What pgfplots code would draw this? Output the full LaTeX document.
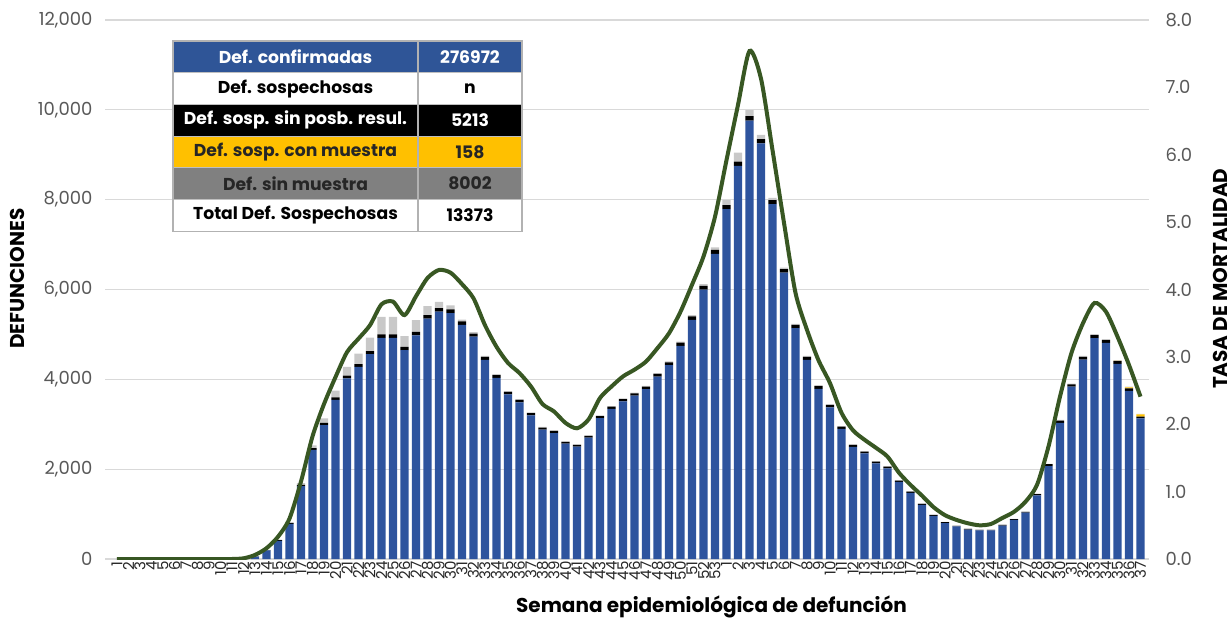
\documentclass[border=0pt]{standalone}
\usepackage{fontspec}
\setmainfont{Poppins}
\usepackage{pgfplots}
\usepackage{pgfplotstable}
\pgfplotsset{compat=1.18}

\definecolor{confblue}{RGB}{46,84,158}
\definecolor{hdrblue}{RGB}{47,85,151}
\definecolor{susyel}{RGB}{255,192,0}
\definecolor{susgray}{RGB}{128,128,128}
\definecolor{barlgray}{RGB}{200,200,200}
\definecolor{rategreen}{HTML}{385723}
\definecolor{ticktxt}{RGB}{89,89,89}
\definecolor{gridc}{RGB}{217,217,217}

% i = bar index (weeks 1-53 of 2020, then 1-37 of 2021)
\pgfplotstableread{
i  blue black yel gray rate
0  0    0   0  0   0
1  0    0   0  0   0
2  0    0   0  0   0
3  0    0   0  0   0
4  0    0   0  0   0
5  0    0   0  0   0
6  0    0   0  0   0
7  0    0   0  0   0
8  0    0   0  0   0
9  0    0   0  0   0
10 0    0   0  0   0
11 10   0   0  0   0.01
12 55   5   0  0   0.06
13 190  10  0  5   0.16
14 405  15  0  10  0.33
15 780  20  0  20  0.60
16 1620 30  0  40  1.15
17 2430 40  0  60  1.82
18 2980 50  0  100 2.30
19 3545 55  0  150 2.70
20 4020 60  0  200 3.07
21 4275 65  0  230 3.27
22 4560 70  0  300 3.47
23 4925 75  0  390 3.78
24 4925 75  0  390 3.82
25 4650 70  0  240 3.62
26 4980 75  0  265 3.90
27 5350 80  0  200 4.17
28 5505 80  0  140 4.29
29 5475 80  0  90  4.25
30 5215 75  0  40  4.08
31 4950 70  0  30  3.87
32 4435 65  0  25  3.47
33 4035 60  0  20  3.15
34 3665 55  0  20  2.91
35 3485 55  0  20  2.76
36 3200 50  0  15  2.56
37 2880 45  0  15  2.30
38 2805 45  0  15  2.19
39 2570 40  0  10  2.02
40 2500 40  0  10  1.94
41 2700 40  0  10  2.07
42 3135 45  0  15  2.39
43 3340 50  0  15  2.56
44 3510 50  0  15  2.71
45 3635 55  0  15  2.81
46 3780 55  0  20  2.93
47 4060 60  0  20  3.13
48 4315 65  0  20  3.35
49 4745 70  0  25  3.67
50 5325 75  0  30  4.07
51 6000 80  0  40  4.49
52 6795 85  0  60  5.08
53 7790 90  0  110 5.92
54 8750 95  0  200 6.74
55 9760 100 0  135 7.54
56 9255 95  0  90  7.13
57 7900 90  0  50  6.07
58 6375 80  0  30  4.99
59 5140 70  0  25  3.95
60 4435 65  0  20  3.40
61 3790 60  0  20  2.95
62 3375 55  0  15  2.61
63 2895 50  0  15  2.17
64 2495 45  0  10  1.91
65 2350 40  0  10  1.77
66 2130 40  0  10  1.65
67 2020 35  0  10  1.52
68 1715 30  0  10  1.28
69 1470 30  0  10  1.10
70 1205 25  0  10  0.94
71 960  20  0  5   0.77
72 800  20  0  5   0.65
73 725  15  0  5   0.58
74 655  15  0  5   0.53
75 635  15  0  5   0.50
76 635  15  0  5   0.52
77 745  15  0  5   0.61
78 870  20  0  5   0.70
79 1030 20  0  5   0.85
80 1415 30  0  10  1.10
81 2070 40  0  10  1.67
82 3030 50  0  15  2.41
83 3835 55  0  15  3.06
84 4440 60  0  20  3.50
85 4920 65  0  20  3.80
86 4810 65  0  20  3.67
87 4345 60  5  20  3.30
88 3745 55  20 15  2.88
89 3130 40  50 10  2.41
}\defs

\begin{document}
\begin{tikzpicture}
\pgfplotsset{
  common/.style={
    at={(0,0)}, anchor=south west,
    scale only axis, x=5.75pt, height=269.5pt,
    xmin=-1, xmax=89.7,
    axis line style={draw=none},
    major tick length=0pt,
    /pgf/number format/assume math mode=true,
    tick label style={font=\fontsize{9}{10}\selectfont, text=ticktxt},
    label style={font=\fontsize{10}{12}\selectfont\bfseries, text=black},
  }
}
\begin{axis}[common,
  ybar stacked, bar width=4.2pt,
  ymin=0, ymax=12000,
  ytick={0,2000,...,12000},
  scaled y ticks=false,
  ymajorgrids, grid style={gridc, line width=0.6pt},
  yticklabel style={/tikz/xshift=-3pt, /pgf/number format/1000 sep={,}},
  xtick={0,...,89},
  xticklabels={1,2,3,4,5,6,7,8,9,10,11,12,13,14,15,16,17,18,19,20,21,22,23,24,25,26,27,28,29,30,31,32,33,34,35,36,37,38,39,40,41,42,43,44,45,46,47,48,49,50,51,52,53,1,2,3,4,5,6,7,8,9,10,11,12,13,14,15,16,17,18,19,20,21,22,23,24,25,26,27,28,29,30,31,32,33,34,35,36,37},
  xticklabel style={rotate=90, anchor=east, font=\fontsize{7.5}{8}\selectfont, text=black!85, inner sep=1pt},
  ylabel={DEFUNCIONES},
  ylabel style={at={(axis description cs:-0.084,0.52)}, rotate=0, anchor=center},
  xlabel={Semana epidemiológica de defunción},
  xlabel style={at={(axis description cs:0.581,0)}, yshift=-24pt, anchor=center},
]
\addplot[fill=confblue, draw=none] table[x=i, y=blue] {\defs};
\addplot[fill=black, draw=none] table[x=i, y=black] {\defs};
\addplot[fill=susyel, draw=none] table[x=i, y=yel] {\defs};
\addplot[fill=barlgray, draw=none] table[x=i, y=gray] {\defs};
\end{axis}

\begin{axis}[common,
  ymin=0, ymax=8,
  axis x line=none, axis y line*=right,
  ytick={0,1,...,8},
  yticklabel style={/tikz/xshift=5pt, /pgf/number format/.cd, fixed, fixed zerofill, precision=1},
  ylabel={TASA DE MORTALIDAD},
  ylabel style={at={(axis description cs:1.0686,0.52)}, rotate=0, anchor=center},
]
\addplot[rategreen, line width=2pt, smooth, tension=0.45, mark=none] table[x=i, y=rate] {\defs};
\end{axis}

% summary table
\begin{scope}[shift={(33.75pt,259pt)}, every node/.style={font=\fontsize{8.6}{10}\selectfont\bfseries, inner sep=0pt}]
\foreach \r/\fc/\tc/\a/\b in {
  0/hdrblue/white/Def. confirmadas/276972,
  1/white/black/Def. sospechosas/n,
  2/black/white/Def. sosp. sin posb. resul./5213,
  3/susyel/black!85/Def. sosp. con muestra/158,
  4/susgray/black!85/Def. sin muestra/8002,
  5/white/black/Total Def. Sospechosas/13373}{
  \fill[\fc] (0,{-\r*15.85pt}) rectangle (174.5pt,{-(\r+1)*15.85pt});
  \node[text=\tc] at (61.25pt,{-(\r+0.5)*15.85pt}) {\a};
  \node[text=\tc] at (148.5pt,{-(\r+0.5)*15.85pt}) {\b};
}
\foreach \r in {1,...,5}
  \draw[gray!50, line width=0.5pt] (0,{-\r*15.85pt}) -- (174.5pt,{-\r*15.85pt});
\draw[gray!60, line width=0.6pt] (122.5pt,0) -- (122.5pt,-95.1pt);
\draw[gray!60, line width=0.6pt] (0,0) rectangle (174.5pt,-95.1pt);
\end{scope}

\pgfresetboundingbox
\path[use as bounding box] (-52.75pt,-34pt) rectangle (563.25pt,279.5pt);
\end{tikzpicture}
\end{document}
